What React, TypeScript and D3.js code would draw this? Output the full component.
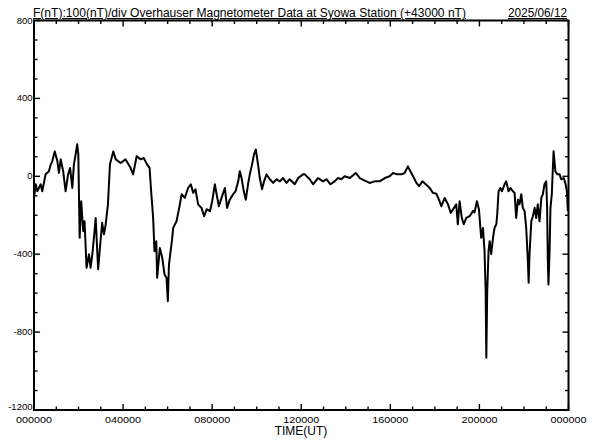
import React from "react";
import * as d3 from "d3";

const hours = [
  0.0, 0.08, 0.15, 0.3, 0.37, 0.52, 0.67, 0.75, 0.82, 0.93, 1.05, 1.12, 1.2, 1.31, 1.42, 1.53, 1.62, 1.72, 1.79, 1.87,
  1.94, 1.99, 2.05, 2.12, 2.21, 2.27, 2.36, 2.47, 2.54, 2.62, 2.69, 2.77, 2.84, 2.88, 2.96, 3.06, 3.14, 3.22, 3.32, 3.41,
  3.56, 3.67, 3.89, 4.11, 4.34, 4.45, 4.61, 4.79, 4.93, 5.08, 5.19, 5.26, 5.35, 5.41, 5.49, 5.53, 5.65, 5.76, 5.86, 5.95,
  6.01, 6.06, 6.2, 6.25, 6.4, 6.55, 6.63, 6.77, 6.92, 7.04, 7.15, 7.25, 7.37, 7.52, 7.64, 7.75, 7.9, 8.0, 8.12, 8.2,
  8.3, 8.42, 8.57, 8.67, 8.79, 8.94, 9.05, 9.17, 9.24, 9.32, 9.42, 9.51, 9.61, 9.69, 9.79, 9.88, 9.96, 10.06, 10.14, 10.24,
  10.33, 10.44, 10.59, 10.74, 10.89, 11.04, 11.18, 11.34, 11.48, 11.71, 11.86, 12.08, 12.16, 12.38, 12.53, 12.75, 12.98, 13.13, 13.31, 13.5,
  13.65, 13.8, 13.95, 14.18, 14.45, 14.63, 14.85, 15.07, 15.3, 15.52, 15.75, 15.97, 16.12, 16.3, 16.5, 16.64, 16.79, 16.9, 17.02, 17.17,
  17.29, 17.44, 17.59, 17.77, 17.91, 18.07, 18.21, 18.29, 18.44, 18.59, 18.71, 18.86, 18.96, 19.03, 19.11, 19.21, 19.3, 19.41, 19.56, 19.71,
  19.78, 19.89, 19.98, 20.08, 20.16, 20.23, 20.28, 20.31, 20.35, 20.41, 20.46, 20.53, 20.61, 20.68, 20.76, 20.8, 20.86, 20.94, 21.01, 21.13,
  21.2, 21.31, 21.4, 21.5, 21.58, 21.65, 21.73, 21.8, 21.88, 21.95, 22.03, 22.1, 22.17, 22.21, 22.25, 22.33, 22.4, 22.48, 22.55, 22.62,
  22.7, 22.78, 22.85, 22.92, 23.0, 23.04, 23.07, 23.1, 23.15, 23.19, 23.25, 23.33, 23.41, 23.5, 23.6, 23.67, 23.79, 23.87, 23.93, 23.97,
];

const values = [
  -111, -41, -77, -41, -77, 10, 26, 60, 77, 128, 77, 17, 87, 26, -77, 10, 43, -60, 60, 113,
  164, 113, -316, -128, -282, -231, -470, -400, -470, -400, -316, -214, -385, -477, -368, -239, -298, -246, -144, 60,
  128, 87, 68, 87, 43, 10, 103, 87, 94, 60, 43, -77, -214, -385, -333, -521, -368, -419, -504, -521,
  -641, -453, -323, -265, -231, -144, -92, -111, -60, -41, -85, -67, -144, -162, -205, -169, -179, -128, -41, -92,
  -154, -111, -60, -162, -120, -92, -77, -26, 26, -9, -77, -120, -41, 10, 60, 113, 138, 60, -9, -67,
  -26, 10, -15, -34, -15, -26, -9, -34, -15, -41, -9, 10, 10, -15, -41, -9, -26, -15, -41, -26,
  -9, -15, 0, -9, 17, -9, -22, -34, -26, -26, -9, 0, 17, 10, 10, 17, 51, 26, 0, -34,
  -51, -26, -41, -60, -85, -90, -128, -154, -111, -144, -188, -162, -144, -246, -128, -214, -246, -214, -205, -179,
  -185, -128, -171, -316, -265, -385, -590, -932, -590, -385, -333, -400, -316, -265, -246, -195, -77, -60, -77, -41,
  -26, -77, -60, -77, -85, -214, -120, -144, -92, -162, -179, -265, -419, -547, -400, -231, -205, -162, -214, -144,
  -231, -111, -92, -41, -26, -162, -419, -556, -385, -162, -92, 128, 26, 10, 10, -15, -9, -41, -77, -179,
];

const xTickLabels = ["000000", "040000", "080000", "120000", "160000", "200000", "000000"];
const xTickHours = [0, 4, 8, 12, 16, 20, 24];
const yTickValues = [800, 400, 0, -400, -800, -1200];

const W = 592;
const H = 440;
const left = 34;
const right = 568.5;
const top = 20.5;
const bottom = 410;
const FONT = "'Liberation Sans', Arial, sans-serif";

export default function App() {
  const x = d3.scaleLinear().domain([0, 24]).range([left, right]);
  const y = d3.scaleLinear().domain([-1200, 800]).range([bottom, top]);
  const data = hours.map((h, i) => [h, values[i]] as [number, number]);
  const line = d3
    .line<[number, number]>()
    .x((d) => x(d[0]))
    .y((d) => y(d[1]));

  const minorX = d3.range(0, 25, 1);
  const minorY = d3.range(-1200, 801, 100);

  return (
    <svg
      width={W}
      height={H}
      viewBox={`0 0 ${W} ${H}`}
      style={{ position: "absolute", left: 0, top: 0, background: "#fff" }}
    >
      <rect x={0} y={0} width={W} height={H} fill="#fff" />
      {minorX.map((h) => {
        const major = h % 4 === 0;
        const len = major ? 6 : 3.5;
        return (
          <g key={"xt" + h} stroke="#000" strokeWidth={1.4}>
            <line x1={x(h)} x2={x(h)} y1={bottom} y2={bottom - len} />
            <line x1={x(h)} x2={x(h)} y1={top} y2={top + len} />
          </g>
        );
      })}
      {minorY.map((v) => {
        const major = v % 400 === 0;
        const len = major ? 6 : 3.5;
        return (
          <g key={"yt" + v} stroke="#000" strokeWidth={1.4}>
            <line x1={left} x2={left + len} y1={y(v)} y2={y(v)} />
            <line x1={right} x2={right - len} y1={y(v)} y2={y(v)} />
          </g>
        );
      })}
      <rect
        x={left}
        y={top}
        width={right - left}
        height={bottom - top}
        fill="none"
        stroke="#000"
        strokeWidth={2}
      />
      <path d={line(data) || ""} fill="none" stroke="#000" strokeWidth={2} strokeLinejoin="round" />
      {yTickValues.map((v) => (
        <text
          key={"yl" + v}
          x={left - 1.5}
          y={y(v) + (v === -1200 ? 0 : 3)}
          textAnchor="end"
          fontFamily={FONT}
          fontSize={9.5}
          fill="#000"
        >
          {String(v)}
        </text>
      ))}
      {xTickHours.map((h, i) => (
        <text
          key={"xl" + i}
          x={x(h)}
          y={423}
          textAnchor="middle"
          fontFamily={FONT}
          fontSize={9}
          fill="#000"
          textLength={36}
          lengthAdjust="spacingAndGlyphs"
        >
          {xTickLabels[i]}
        </text>
      ))}
      <text x={301} y={435} textAnchor="middle" fontFamily={FONT} fontSize={12} fill="#000">
        TIME(UT)
      </text>
      <text
        x={33}
        y={17}
        fontFamily={FONT}
        fontSize={12}
        fill="#000"
        textDecoration="underline"
        textLength={433}
        lengthAdjust="spacingAndGlyphs"
      >
        F(nT):100(nT)/div  Overhauser Magnetometer Data at Syowa Station (+43000 nT)
      </text>
      <text
        x={508}
        y={17}
        fontFamily={FONT}
        fontSize={12}
        fill="#000"
        textDecoration="underline"
        textLength={59}
        lengthAdjust="spacingAndGlyphs"
      >
        2025/06/12
      </text>
    </svg>
  );
}
